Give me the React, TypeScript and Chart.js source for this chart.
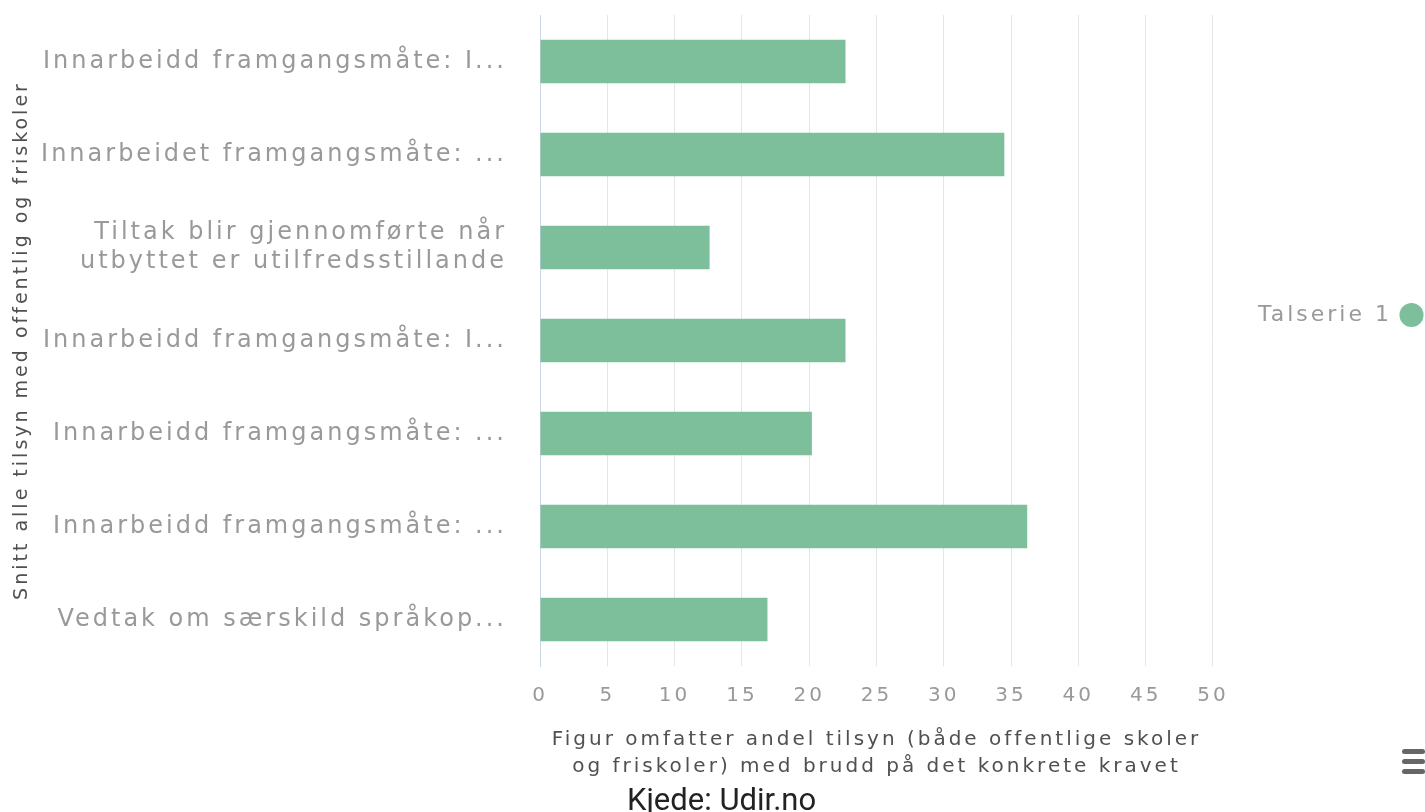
import React, { useEffect, useRef } from "react";
import { Chart, registerables } from "chart.js";

Chart.register(...registerables);

const categories: (string | string[])[] = [
  "Innarbeidd framgangsmåte: I...",
  "Innarbeidet framgangsmåte: ...",
  ["Tiltak blir gjennomførte når", "utbyttet er utilfredsstillande"],
  "Innarbeidd framgangsmåte: I...",
  "Innarbeidd framgangsmåte: ...",
  "Innarbeidd framgangsmåte: ...",
  "Vedtak om særskild språkop...",
];
const seriesName = "Talserie 1";
const seriesValues = [22.7, 34.5, 12.6, 22.7, 20.2, 36.2, 16.9];
const xTicks = { min: 0, max: 50, step: 5 };
const xTitle = [
  "Figur omfatter andel tilsyn (både offentlige skoler",
  "og friskoler) med brudd på det konkrete kravet",
];
const yTitle = "Snitt alle tilsyn med offentlig og friskoler";
const caption = "Kjede: Udir.no";

const FONT = "'DejaVu Sans', Verdana, sans-serif";

const spacingPlugin = {
  id: "letterSpacing",
  beforeInit(c: any) {
    c.ctx.letterSpacing = "3px";
  },
  beforeUpdate(c: any) {
    c.ctx.letterSpacing = "3px";
  },
  beforeLayout(c: any) {
    c.ctx.letterSpacing = "3px";
  },
  beforeDraw(c: any) {
    c.ctx.letterSpacing = "3px";
  },
  afterLayout(c: any) {
    const lg = c.legend;
    if (lg) {
      const w = lg.width;
      lg.right = c.width;
      lg.left = c.width - w;
      lg.top = 0;
      lg.bottom = 630;
    }
  },
};

export default function App() {
  const ref = useRef<HTMLCanvasElement | null>(null);
  useEffect(() => {
    if (!ref.current) return;
    const chart = new Chart(ref.current, {
      type: "bar",
      data: {
        labels: categories,
        datasets: [
          {
            label: seriesName,
            data: seriesValues,
            backgroundColor: "#7dbe9b",
            borderWidth: 0,
            barPercentage: 0.47,
            categoryPercentage: 1,
            pointStyle: "circle",
          },
        ],
      },
      options: {
        indexAxis: "y",
        animation: false,
        responsive: true,
        maintainAspectRatio: false,
        layout: { padding: { top: 15, bottom: 32, right: 35, left: 0 } },
        plugins: {
          tooltip: { enabled: false },
          legend: {
            position: "right",
            align: "center",
            rtl: true,
            labels: {
              usePointStyle: true,
              boxWidth: 17,
              boxHeight: 17,
              padding: 5,
              color: "#999999",
              font: { family: FONT, size: 22 },
            },
          },
        },
        scales: {
          x: {
            min: xTicks.min,
            max: xTicks.max,
            ticks: {
              stepSize: xTicks.step,
              color: "#999999",
              padding: 18,
              font: { family: FONT, size: 20 },
            },
            grid: { color: "#e6e6e6", drawTicks: false },
            border: { display: false },
            title: {
              display: true,
              text: xTitle,
              color: "#505050",
              font: { family: FONT, size: 20, lineHeight: 1.35 },
              padding: { top: 0, bottom: 0 },
            },
          },
          y: {
            afterFit(scale: any) {
              scale.width = 540;
              scale.paddingTop = 0;
              scale.paddingBottom = 0;
            },
            ticks: {
              color: "#999999",
              padding: 25,
              font: { family: FONT, size: 24, lineHeight: 1.2 },
            },
            grid: { display: false },
            border: { display: true, color: "#ccd6eb", width: 1 },
            title: {
              display: true,
              text: yTitle,
              color: "#505050",
              font: { family: FONT, size: 19 },
              padding: { top: 11, bottom: 14 },
            },
          },
        },
      },
      plugins: [spacingPlugin],
    });
    return () => chart.destroy();
  }, []);

  return (
    <div
      style={{
        position: "fixed",
        left: 0,
        top: 0,
        width: 1425,
        height: 812,
        background: "#ffffff",
        overflow: "hidden",
      }}
    >
      <canvas ref={ref} style={{ width: "100%", height: "100%" }} />
      <div
        style={{
          position: "absolute",
          left: 627,
          top: 784,
          fontFamily: "Roboto, sans-serif",
          fontSize: 31,
          lineHeight: "31px",
          color: "#222222",
          whiteSpace: "nowrap",
        }}
      >
        {caption}
      </div>
      <div style={{ position: "absolute", left: 1402, top: 749, width: 23 }}>
        {[0, 1, 2].map((i) => (
          <div
            key={i}
            style={{
              height: 5,
              borderRadius: 3,
              background: "#666666",
              marginBottom: 5,
            }}
          />
        ))}
      </div>
    </div>
  );
}
